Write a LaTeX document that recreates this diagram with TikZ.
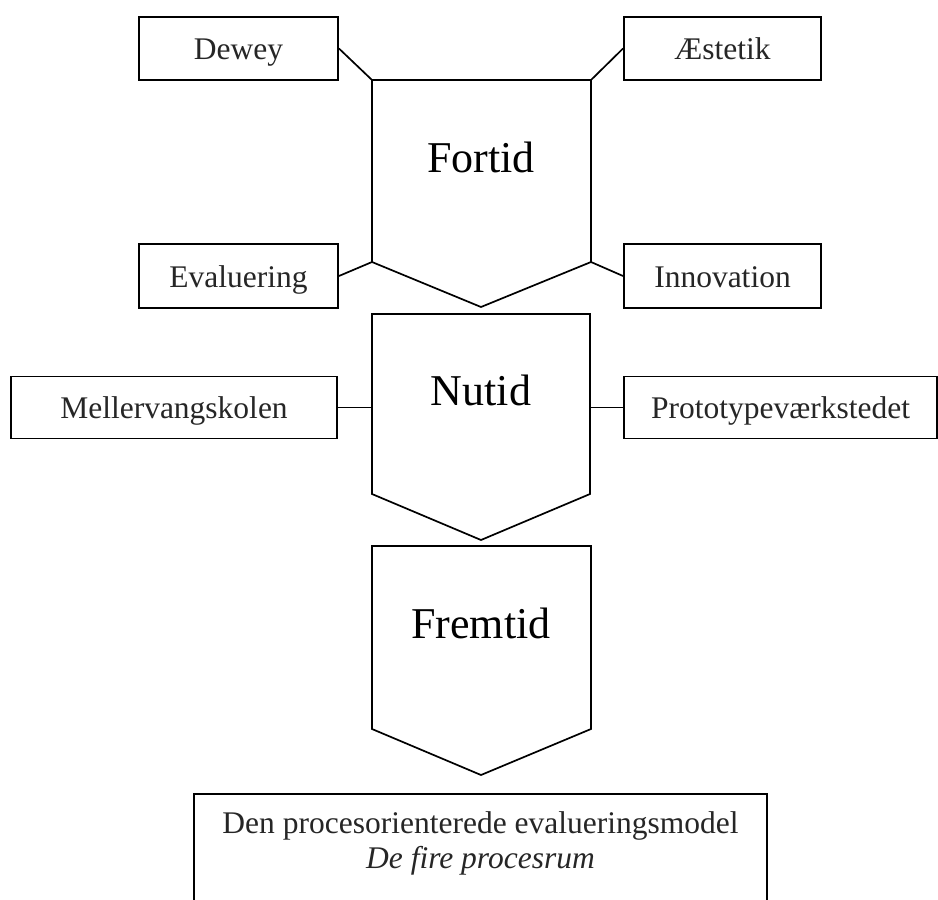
\documentclass[tikz,border=0pt]{standalone}
\usepackage{fontspec}
\setmainfont{Liberation Serif}
\begin{document}
\begin{tikzpicture}[x=1pt,y=-1pt,
  labelbox/.style={draw=black, line width=1.9pt, inner sep=0pt,
    text height=22pt, text depth=0pt, text=black!85,
    font=\fontsize{31.5}{37}\selectfont},
  phase/.style={draw=black, line width=1.7pt, line join=miter},
  phaselabel/.style={anchor=base, inner sep=0pt,
    font=\fontsize{44}{50}\selectfont},
  link/.style={draw=black, line width=1.7pt},
  modeltext/.style={anchor=base, inner sep=0pt, text=black!85,
    font=\fontsize{31.5}{37}\selectfont}]
\useasboundingbox (0,0) rectangle (938,900);

% --- Fortid ---
\coordinate (f1) at (372,80);  \coordinate (f2) at (591,80);
\coordinate (f3) at (591,262); \coordinate (f4) at (481,307);
\coordinate (f5) at (372,262);
\draw[phase] (f1) -- (f2) -- (f3) -- (f4) -- (f5) -- cycle;
\node[phaselabel] (fortid) at (481,172) {Fortid};

% --- Nutid ---
\coordinate (n1) at (372,314); \coordinate (n2) at (590,314);
\coordinate (n3) at (590,494); \coordinate (n4) at (481,540);
\coordinate (n5) at (372,494);
\coordinate (nl) at (372,407.5); \coordinate (nr) at (590,407.5);
\draw[phase] (n1) -- (n2) -- (n3) -- (n4) -- (n5) -- cycle;
\node[phaselabel] (nutid) at (481,405) {Nutid};

% --- Fremtid ---
\coordinate (m1) at (372,546); \coordinate (m2) at (591,546);
\coordinate (m3) at (591,729); \coordinate (m4) at (481,775);
\coordinate (m5) at (372,729);
\draw[phase] (m1) -- (m2) -- (m3) -- (m4) -- (m5) -- cycle;
\node[phaselabel] (fremtid) at (481,638) {Fremtid};

% --- surrounding concepts ---
\node[labelbox, minimum width=199pt, minimum height=63pt] (dewey) at (238.5,48.5) {Dewey};
\node[labelbox, minimum width=199pt, minimum height=64pt] (evaluering) at (238.5,276) {Evaluering};
\node[labelbox, minimum width=197pt, minimum height=63pt] (aestetik) at (722.5,48.5) {Æstetik};
\node[labelbox, minimum width=197pt, minimum height=64pt] (innovation) at (722.5,276) {Innovation};
\node[labelbox, minimum width=326pt, minimum height=62pt] (meller) at (174,407.5) {Mellervangskolen};
\node[labelbox, minimum width=313pt, minimum height=62pt] (proto) at (780.5,407.5) {Prototypeværkstedet};

\draw[link] (dewey.east) -- (f1);
\draw[link] (evaluering.east) -- (f5);
\draw[link] (aestetik.west) -- (f2);
\draw[link] (innovation.west) -- (f3);
\draw[link] (meller.east) -- (nl);
\draw[link] (proto.west) -- (nr);

% --- model box ---
\node[draw=black, line width=1.9pt, minimum width=573pt, minimum height=130pt,
  anchor=north, inner sep=0pt] (model) at (480.5,793) {};
\node[modeltext] (modeltitle) at (480.5,833) {Den procesorienterede evalueringsmodel};
\node[modeltext, font=\fontsize{31.5}{37}\selectfont\itshape] (modelsub) at (480.5,868) {De fire procesrum};
\end{tikzpicture}
\end{document}
